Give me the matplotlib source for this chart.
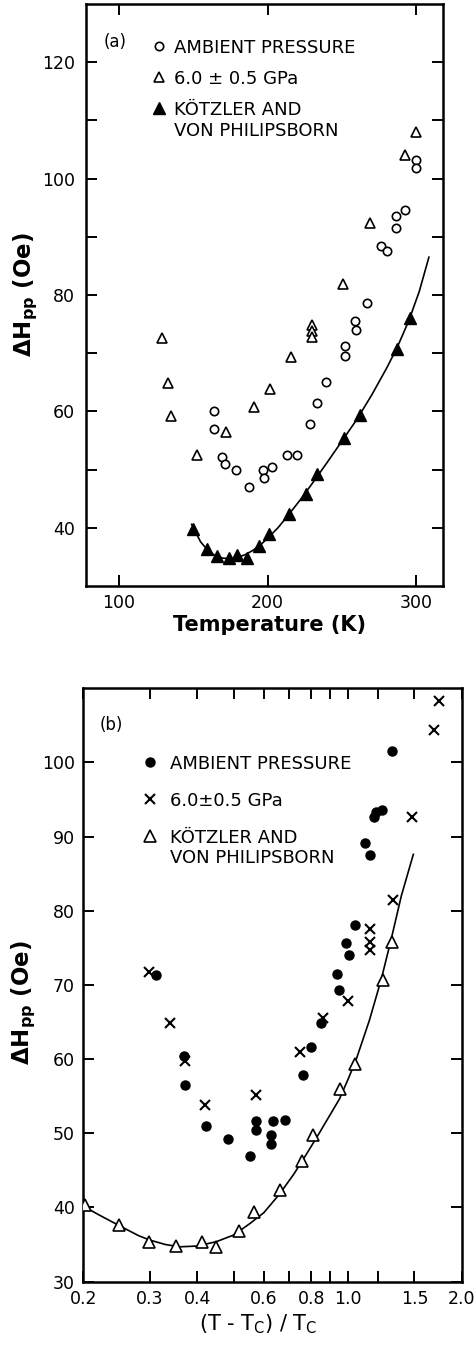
import matplotlib
matplotlib.use("Agg")
import matplotlib.pyplot as plt
from matplotlib.ticker import FixedLocator, FixedFormatter, NullLocator

plt.rcParams['font.family'] = ['DejaVu Sans']
plt.rcParams['mathtext.fontset'] = 'dejavusans'

# ---------------- Panel (a) data: temperature (K) vs linewidth (Oe) ----------------
amb_T = [163.9, 164.3, 169.5, 171.5, 179.0, 187.8, 196.8, 197.7, 203.1, 213.0, 220.1,
         228.8, 233.6, 239.2, 252.3, 252.3, 258.6, 259.7, 267.2, 276.0, 280.0, 286.4,
         286.6, 292.5, 299.6, 299.6]
amb_H = [60.0, 56.9, 52.1, 50.9, 49.9, 47.0, 50.0, 48.5, 50.4, 52.5, 52.5,
         57.8, 61.4, 65.0, 71.3, 69.5, 75.6, 74.0, 78.7, 88.5, 87.6, 91.6,
         93.5, 94.6, 103.2, 101.9]

gpa_T = [129.4, 133.4, 135.2, 152.4, 172.2, 191.2, 201.8, 215.5, 229.7, 229.7, 229.7,
         250.5, 269.2, 292.2, 299.6]
gpa_H = [72.6, 64.9, 59.3, 52.5, 56.4, 60.8, 63.8, 69.4, 74.9, 73.8, 72.8,
         81.9, 92.3, 104.0, 108.0]

kvp_T = [149.7, 159.3, 165.9, 173.8, 179.7, 186.4, 194.3, 201.1, 214.4, 225.7, 233.6,
         251.6, 262.0, 286.8, 295.6]
kvp_H = [39.8, 36.3, 35.1, 34.8, 35.4, 34.9, 36.8, 38.9, 42.4, 45.9, 49.3,
         55.5, 59.4, 70.7, 76.0]

fit_a_T = [149, 155, 160, 165, 170, 175, 180, 185, 190, 195, 200, 207, 214, 222, 230,
           240, 250, 260, 270, 280, 287, 295, 302, 308.5]
fit_a_H = [40.6, 37.6, 36.1, 35.2, 34.8, 34.7, 34.9, 35.4, 36.1, 37.0, 38.2, 40.0, 42.2,
           44.8, 47.6, 51.2, 54.9, 58.6, 62.8, 67.4, 70.9, 75.6, 80.6, 86.5]

# ---------------- Panel (b) data: reduced temperature vs linewidth ----------------
amb_r = [0.311, 0.370, 0.372, 0.422, 0.483, 0.553, 0.573, 0.573, 0.625, 0.625, 0.635,
         0.683, 0.760, 0.800, 0.850, 0.946, 0.937, 1.006, 0.992, 1.044, 1.144, 1.110,
         1.172, 1.184, 1.234, 1.306]
amb_rH = [71.3, 60.4, 56.5, 51.0, 49.2, 46.9, 51.6, 50.4, 49.8, 48.6, 51.7,
          51.8, 57.8, 61.6, 64.9, 69.3, 71.5, 74.1, 75.6, 78.1, 87.5, 89.2,
          92.6, 93.3, 93.6, 101.6]

gpa_r = [0.299, 0.338, 0.372, 0.420, 0.573, 0.749, 0.858, 1.002, 1.144, 1.144, 1.144,
         1.320, 1.476, 1.688, 1.747]
gpa_rH = [71.7, 64.9, 59.8, 53.8, 55.2, 60.9, 65.5, 67.8, 77.6, 75.8, 74.7,
          81.5, 92.6, 104.3, 108.3]

kvp_r = [0.2018, 0.249, 0.298, 0.351, 0.412, 0.448, 0.517, 0.565, 0.660, 0.755, 0.811,
         0.951, 1.048, 1.238, 1.308]
kvp_rH = [40.3, 37.6, 35.3, 34.8, 35.3, 34.7, 36.8, 39.4, 42.4, 46.2, 49.8,
          56.0, 59.3, 70.6, 75.8]

fit_b_r = [0.198, 0.22, 0.25, 0.28, 0.30, 0.33, 0.36, 0.40, 0.45, 0.50, 0.55, 0.60,
           0.66, 0.72, 0.78, 0.84, 0.95, 1.00, 1.05, 1.14, 1.225, 1.30, 1.385, 1.49]
fit_b_H = [40.3, 39.0, 37.5, 36.2, 35.6, 35.0, 34.7, 34.8, 35.4, 36.3, 37.8, 39.3,
           41.8, 44.5, 47.3, 50.0, 54.6, 57.2, 59.8, 65.2, 70.7, 76.0, 82.0, 87.6]

labels_a = ["AMBIENT PRESSURE", "6.0 \u00b1 0.5 GPa", "K\u00d6TZLER AND\nVON PHILIPSBORN"]
labels_b = ["AMBIENT PRESSURE", "6.0\u00b10.5 GPa", "K\u00d6TZLER AND\nVON PHILIPSBORN"]

xticks_a = [100, 200, 300]
yticks_a = [40, 50, 60, 70, 80, 90, 100, 110, 120]
ylabels_a = ["40", "", "60", "", "80", "", "100", "", "120"]

xticks_b = [0.2, 0.3, 0.4, 0.5, 0.6, 0.7, 0.8, 0.9, 1.0, 1.2, 1.5, 2.0]
xlabels_b = ["0.2", "0.3", "0.4", "", "0.6", "", "0.8", "", "1.0", "", "1.5", "2.0"]
yticks_b = [30, 40, 50, 60, 70, 80, 90, 100]


def top_align(leg):
    # put each legend marker level with the first line of its label
    for col in leg._legend_handle_box.get_children():
        for item in col.get_children():
            item.align = 'top'


# ---------------- figure ----------------
fig = plt.figure(figsize=(4.75, 13.46), dpi=100)
ax1 = fig.add_axes([0.1811, 0.5646, 0.7516, 0.4324])
ax2 = fig.add_axes([0.1754, 0.0478, 0.7966, 0.4409])

lw_sp = 1.8
tick_kw = dict(direction='in', length=8, width=1.4, labelsize=12.5, top=True, right=True)

# Panel (a)
ax1.plot(fit_a_T, fit_a_H, '-', color='black', lw=1.2, zorder=2)
h1, = ax1.plot(amb_T, amb_H, 'o', ms=6, mfc='white', mec='black', mew=1.2, ls='none', zorder=3)
h2, = ax1.plot(gpa_T, gpa_H, '^', ms=7, mfc='white', mec='black', mew=1.2, ls='none', zorder=3)
h3, = ax1.plot(kvp_T, kvp_H, '^', ms=8, mfc='black', mec='black', mew=1.0, ls='none', zorder=3)
ax1.set_xlim(78, 318)
ax1.set_ylim(30, 130)
ax1.xaxis.set_major_locator(FixedLocator(xticks_a))
ax1.yaxis.set_major_locator(FixedLocator(yticks_a))
ax1.yaxis.set_major_formatter(FixedFormatter(ylabels_a))
ax1.tick_params(axis='both', **tick_kw)
ax1.tick_params(axis='y', pad=8)
ax1.tick_params(axis='x', pad=6)
for s in ax1.spines.values():
    s.set_linewidth(lw_sp)
ax1.set_xlabel("Temperature (K)", fontsize=15, fontweight='bold', va='top')
ax1.xaxis.set_label_coords(0.515, -0.050)
ax1.set_ylabel(r"$\mathbf{\Delta H_{pp}}$ (Oe)", fontsize=16.5, fontweight='bold')
ax1.yaxis.set_label_coords(-0.13, 0.5)
ax1.text(97.8, 123.5, "(a)", fontsize=12, ha='center', va='center')
leg1 = ax1.legend([h1, h2, h3], labels_a, loc='upper left', bbox_to_anchor=(0.185, 0.940),
                  frameon=False, fontsize=13, handlelength=0.8, handleheight=1.1,
                  handletextpad=0.4, labelspacing=0.72, borderpad=0, borderaxespad=0,
                  numpoints=1)
top_align(leg1)

# Panel (b)
ax2.plot(fit_b_r, fit_b_H, '-', color='black', lw=1.2, zorder=2)
g1, = ax2.plot(amb_r, amb_rH, 'o', ms=6.5, mfc='black', mec='black', ls='none', zorder=3)
g2, = ax2.plot(gpa_r, gpa_rH, 'x', ms=7, mec='black', mew=1.5, ls='none', zorder=3)
g3, = ax2.plot(kvp_r, kvp_rH, '^', ms=8, mfc='white', mec='black', mew=1.2, ls='none', zorder=3)
ax2.set_xscale('log')
ax2.set_xlim(0.2, 2.0)
ax2.set_ylim(30, 110)
ax2.xaxis.set_major_locator(FixedLocator(xticks_b))
ax2.xaxis.set_major_formatter(FixedFormatter(xlabels_b))
ax2.xaxis.set_minor_locator(NullLocator())
ax2.yaxis.set_major_locator(FixedLocator(yticks_b))
ax2.tick_params(axis='both', **tick_kw)
ax2.tick_params(axis='y', pad=6)
ax2.tick_params(axis='x', pad=6)
for s in ax2.spines.values():
    s.set_linewidth(lw_sp)
ax2.set_xlabel(r"(T - T$_\mathregular{C}$) / T$_\mathregular{C}$", fontsize=15, va='top')
ax2.xaxis.set_label_coords(0.462, -0.052)
ax2.set_ylabel(r"$\mathbf{\Delta H_{pp}}$ (Oe)", fontsize=16.5, fontweight='bold')
ax2.yaxis.set_label_coords(-0.12, 0.47)
ax2.text(0.237, 105.1, "(b)", fontsize=12, ha='center', va='center')
leg2 = ax2.legend([g1, g2, g3], labels_b, loc='upper left', bbox_to_anchor=(0.157, 0.888),
                  frameon=False, fontsize=13, handlelength=0.8, handleheight=1.1,
                  handletextpad=0.7, labelspacing=1.05, borderpad=0, borderaxespad=0,
                  numpoints=1)
top_align(leg2)

fig.savefig("out.png", dpi=100)
